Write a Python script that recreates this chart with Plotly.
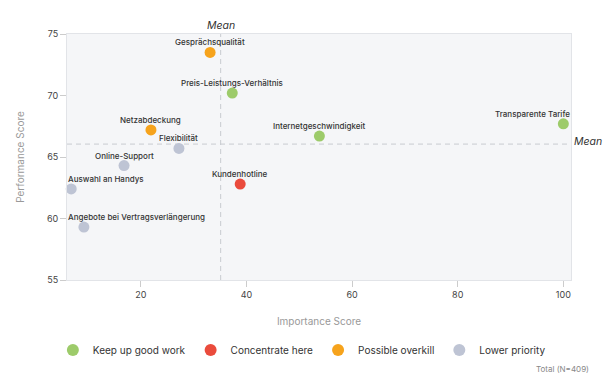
import plotly.graph_objects as go

labels = ["Gesprächsqualität", "Preis-Leistungs-Verhältnis", "Netzabdeckung", "Flexibilität",
          "Online-Support", "Auswahl an Handys", "Kundenhotline",
          "Angebote bei Vertragsverlängerung", "Internetgeschwindigkeit", "Transparente Tarife"]
importance = [33.1, 37.3, 21.9, 27.2, 16.8, 6.8, 38.8, 9.2, 53.8, 100.0]
performance = [73.5, 70.2, 67.2, 65.7, 64.3, 62.4, 62.8, 59.3, 66.7, 67.7]
groups = ["Possible overkill", "Keep up good work", "Possible overkill", "Lower priority",
          "Lower priority", "Lower priority", "Concentrate here", "Lower priority",
          "Keep up good work", "Keep up good work"]
group_order = ["Keep up good work", "Concentrate here", "Possible overkill", "Lower priority"]
group_colors = {"Keep up good work": "#9DCB6A", "Concentrate here": "#EA4B3C",
                "Possible overkill": "#F6A31C", "Lower priority": "#BEC4D4"}
mean_x = 35.1
mean_y = 66.05
x_range = [6.0, 101.45]
y_range = [55, 75]
x_ticks = [20, 40, 60, 80, 100]
y_ticks = [55, 60, 65, 70, 75]
# labels that are kept inside the plot area (clamped to left / right edge)
clamp_left = {"Auswahl an Handys", "Angebote bei Vertragsverlängerung"}
clamp_right = {"Transparente Tarife"}

FONT = "Inter, Roboto, sans-serif"
fig = go.Figure()
for g in group_order:
    idx = [i for i, gg in enumerate(groups) if gg == g]
    fig.add_trace(go.Scatter(
        x=[importance[i] for i in idx], y=[performance[i] for i in idx],
        mode="markers", name=g,
        marker=dict(size=11, color=group_colors[g]),
        cliponaxis=False, hoverinfo="text", hovertext=[labels[i] for i in idx],
    ))

for lab, xv, yv in zip(labels, importance, performance):
    if lab in clamp_left:
        ax, anchor = x_range[0], "left"
    elif lab in clamp_right:
        ax, anchor = x_range[1], "right"
    else:
        ax, anchor = xv, "center"
    fig.add_annotation(x=ax, y=yv, xref="x", yref="y", text=lab, showarrow=False,
                       xanchor=anchor, yanchor="middle", yshift=10, borderpad=0,
                       font=dict(size=8, color="#333333", family=FONT, weight=500))

fig.add_shape(type="line", x0=mean_x, x1=mean_x, y0=0, y1=1, xref="x", yref="paper",
              line=dict(color="#C8CBD0", width=1, dash="5px,4px"), layer="below")
fig.add_shape(type="line", x0=0, x1=1, y0=mean_y, y1=mean_y, xref="paper", yref="y",
              line=dict(color="#C8CBD0", width=1, dash="5px,4px"), layer="below")
fig.add_annotation(x=mean_x, y=1, xref="x", yref="paper", text="<i>Mean</i>", showarrow=False,
                   yanchor="bottom", yshift=0, font=dict(size=10.5, color="#333333", family=FONT))
fig.add_annotation(x=1, y=mean_y, xref="paper", yref="y", text="<i>Mean</i>", showarrow=False,
                   xanchor="left", xshift=1, yanchor="middle", yshift=3,
                   font=dict(size=10.5, color="#333333", family=FONT))
fig.add_annotation(x=1.0395, y=-0.362, xref="paper", yref="paper", text="Total (N=409)", showarrow=False,
                   xanchor="right", yanchor="middle", font=dict(size=8, color="#888888", family=FONT))

fig.update_layout(
    width=615, height=384,
    margin=dict(l=57, r=52, t=26, b=112),
    paper_bgcolor="white", plot_bgcolor="#F5F6F8",
    font=dict(family=FONT, color="#333333"),
    showlegend=True,
    legend=dict(orientation="h", x=0.466, xanchor="center", y=-0.285, yanchor="middle",
                font=dict(size=10, color="#333333", family=FONT), itemsizing="constant"),
    xaxis=dict(range=x_range, tickvals=x_ticks, showgrid=False, zeroline=False,
               showline=True, linecolor="#E2E4E8", mirror=True,
               ticks="outside", ticklen=6, tickcolor="#CCCCCC",
               tickfont=dict(size=9, color="#444444"),
               title=dict(text="Importance Score", font=dict(size=10, color="#999999"), standoff=19)),
    yaxis=dict(range=y_range, tickvals=y_ticks, showgrid=False, zeroline=False,
               showline=True, linecolor="#E2E4E8", mirror=True,
               ticks="outside", ticklen=6, tickcolor="#CCCCCC",
               tickfont=dict(size=9, color="#444444"),
               title=dict(text="Performance Score", font=dict(size=10, color="#999999"), standoff=20)),
)
fig.write_html("out.html")
